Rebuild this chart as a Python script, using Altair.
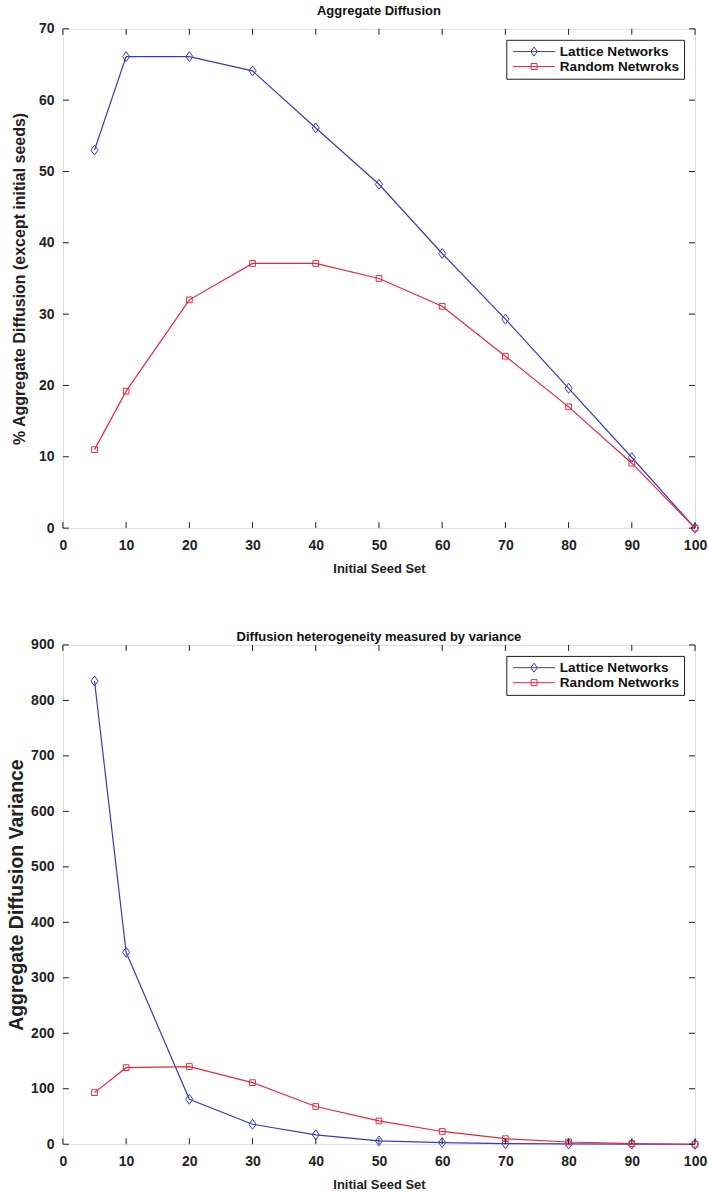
import altair as alt
import pandas as pd

# Initial seed set sizes (shared x values for both panels)
seed_set = [5, 10, 20, 30, 40, 50, 60, 70, 80, 90, 100]

# Aggregate diffusion (% of nodes reached, excluding initial seeds)
lattice_diffusion = [53, 66.1, 66.1, 64.1, 56.1, 48.2, 38.5, 29.3, 19.6, 9.9, 0]
random_diffusion = [11, 19.2, 32, 37.1, 37.1, 35, 31.1, 24.1, 17, 9.1, 0]

# Variance of aggregate diffusion
lattice_variance = [835, 346, 81, 36, 17, 6, 3, 1, 0.5, 0.2, 0]
random_variance = [93, 138, 140, 111, 68, 42, 23, 10, 4, 1, 0]

x_ticks = [0, 10, 20, 30, 40, 50, 60, 70, 80, 90, 100]
top_y_ticks = [0, 10, 20, 30, 40, 50, 60, 70]
bottom_y_ticks = [0, 100, 200, 300, 400, 500, 600, 700, 800, 900]

LATTICE_COLOR = "#3a3ab8"
RANDOM_COLOR = "#e6283e"
INK = "#1e1e1e"
TEXT = "#222222"
FONT = "Liberation Sans"
W, H = 633, 500
TICK = 6

# hollow marker outlines (taller-than-wide diamond, square)
DIAMOND = "M0,-1L0.72,0L0,1L-0.72,0Z"
SQUARE = "M-0.78,-0.78L0.78,-0.78L0.78,0.78L-0.78,0.78Z"
# legend keys (symbol size 100 -> 5 px per unit): a 42 px line with the marker in its middle
KEY_DIAMOND = "M-4.2,0L4.2,0M0,-0.9L0.65,0L0,0.9L-0.65,0Z"
KEY_SQUARE = "M-4.2,0L4.2,0M-0.6,-0.6L0.6,-0.6L0.6,0.6L-0.6,0.6Z"


def panel(title, title_offset, y_title, y_title_size, y_title_pad, y_ticks, y_max,
          lattice_vals, random_vals, lattice_name, random_name):
    df = pd.DataFrame({
        "seed": seed_set * 2,
        "value": lattice_vals + random_vals,
        "series": [lattice_name] * len(seed_set) + [random_name] * len(seed_set),
    })

    label_style = dict(labelFont=FONT, labelFontWeight="bold", labelFontSize=14,
                       labelColor=TEXT, titleFont=FONT, titleFontWeight="bold",
                       titleColor=TEXT, grid=False, domain=False, ticks=False)
    x = alt.X("seed:Q", scale=alt.Scale(domain=[0, 100], nice=False, zero=False),
              axis=alt.Axis(values=x_ticks, title="Initial Seed Set", labelFlush=False,
                            labelOverlap=False, labelPadding=10, titlePadding=10,
                            titleFontSize=13, **label_style))
    y = alt.Y("value:Q", scale=alt.Scale(domain=[0, y_max], nice=False),
              axis=alt.Axis(values=y_ticks, title=y_title, labelPadding=9,
                            titlePadding=y_title_pad, titleFontSize=y_title_size,
                            **label_style))

    base = alt.Chart(df)
    layers = []
    for name, color, shape, size in [
        (lattice_name, LATTICE_COLOR, DIAMOND, 30),
        (random_name, RANDOM_COLOR, SQUARE, 22),
    ]:
        sub = base.transform_filter(alt.datum.series == name)
        layers.append(sub.mark_line(color=color, strokeWidth=1.2).encode(x=x, y=y))
        layers.append(sub.mark_point(shape=shape, size=size * size / 9,
                                     color=color, filled=False, strokeWidth=1,
                                     opacity=1).encode(x=x, y=y))

    legend = alt.Legend(title=None, orient="top-right", offset=11,
                        fillColor="white", strokeColor=INK, padding=5,
                        symbolSize=100, symbolStrokeWidth=1, symbolOpacity=1,
                        symbolFillColor="transparent", symbolOffset=16,
                        labelFont=FONT, labelFontWeight="bold", labelFontSize=13.6,
                        labelColor="#111", labelOffset=19, rowPadding=0)
    legend_layer = base.mark_point(opacity=0).encode(
        x=x, y=y,
        color=alt.Color("series:N", legend=legend,
                        scale=alt.Scale(domain=[lattice_name, random_name],
                                        range=[LATTICE_COLOR, RANDOM_COLOR])),
        shape=alt.Shape("series:N", legend=legend,
                        scale=alt.Scale(domain=[lattice_name, random_name],
                                        range=[KEY_DIAMOND, KEY_SQUARE])),
    )
    layers.append(legend_layer)

    # inward-pointing tick marks on all four sides of the box
    xt = alt.Chart(pd.DataFrame({"seed": x_ticks}))
    yt = alt.Chart(pd.DataFrame({"value": y_ticks}))
    layers += [
        xt.mark_rule(color=INK).encode(x=x, y=alt.value(H), y2=alt.value(H - TICK)),
        xt.mark_rule(color=INK).encode(x=x, y=alt.value(0), y2=alt.value(TICK)),
        yt.mark_rule(color=INK).encode(y=y, x=alt.value(0), x2=alt.value(TICK)),
        yt.mark_rule(color=INK).encode(y=y, x=alt.value(W), x2=alt.value(W - TICK)),
    ]

    return alt.layer(*layers).properties(
        width=W, height=H,
        title=alt.TitleParams(title, font=FONT, fontSize=13, fontWeight="bold",
                              color="#111", offset=title_offset),
    )


top = panel("Aggregate Diffusion", 4,
            "% Aggregate Diffusion (except initial seeds)", 16, 11,
            top_y_ticks, 70, lattice_diffusion, random_diffusion,
            "Lattice Networks", "Random Netwroks")
bottom = panel("Diffusion heterogeneity measured by variance", -6,
               "Aggregate Diffusion Variance", 19.5, 4, bottom_y_ticks, 900,
               lattice_variance, random_variance,
               "Lattice Networks", "Random Networks")

chart = alt.vconcat(top, bottom, spacing=54).resolve_scale(
    color="independent", shape="independent", x="independent", y="independent"
).resolve_legend(color="independent", shape="independent").properties(
    padding={"left": 6, "top": 3, "right": 0, "bottom": 0}
).configure_view(stroke=INK, strokeWidth=1).configure(background="white")

chart.save("out.html", embed_options={"renderer": "svg", "actions": False})
